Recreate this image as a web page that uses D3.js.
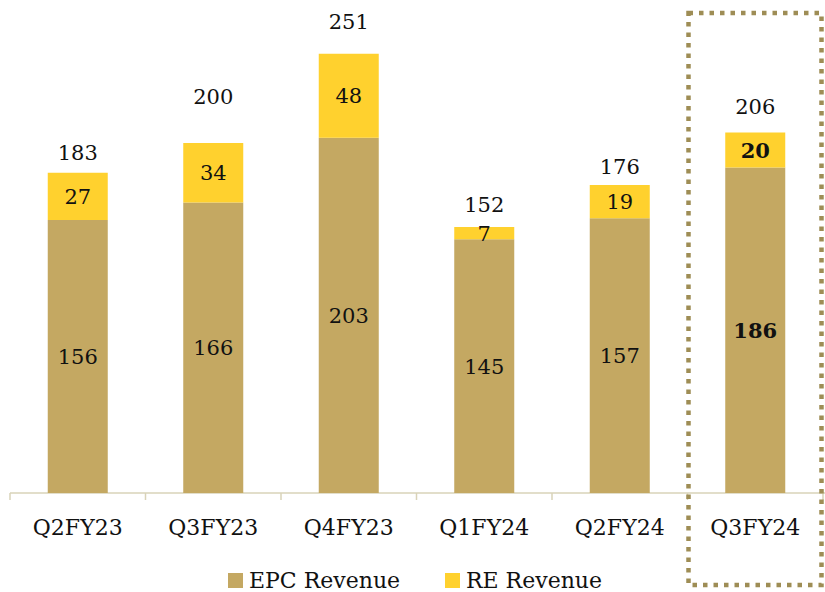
<!DOCTYPE html>
<html>
<head>
<meta charset="utf-8">
<script src="https://cdn.jsdelivr.net/npm/d3@7"></script>
<style>
  body { margin: 0; background: #fff; }
  svg { display: block; font-family: "DejaVu Serif", "Liberation Serif", serif; }
</style>
</head>
<body>
<div id="chart"></div>
<script>
const categories = ["Q2FY23", "Q3FY23", "Q4FY23", "Q1FY24", "Q2FY24", "Q3FY24"];
const epcRevenue = [156, 166, 203, 145, 157, 186];
const reRevenue = [27, 34, 48, 7, 19, 20];
const totals = [183, 200, 251, 152, 176, 206];
const seriesNames = ["EPC Revenue", "RE Revenue"];
const highlighted = "Q3FY24";
// gap in px between bar top and total label baseline (as placed in the original)
const totalLabelGap = [13, 39, 25, 15, 11, 19];

const width = 825, height = 592;
const colors = { "EPC Revenue": "#C4A862", "RE Revenue": "#FFD12E" };

const svg = d3.select("#chart").append("svg")
    .attr("width", width)
    .attr("height", height);

const x = d3.scaleBand()
    .domain(categories)
    .range([10, 823])
    .paddingInner(0)
    .paddingOuter(0);

const y = d3.scaleLinear()
    .domain([0, 100])
    .range([493, 318]);

const barWidth = 60;

// stack the two series
const rows = categories.map((c, i) => ({ cat: c, "EPC Revenue": epcRevenue[i], "RE Revenue": reRevenue[i], total: totals[i], gap: totalLabelGap[i] }));
const stacked = d3.stack().keys(seriesNames)(rows);

// axis line with ticks at band edges
const axis = svg.append("g");
axis.append("line")
    .attr("x1", 10).attr("x2", width)
    .attr("y1", y(0)).attr("y2", y(0))
    .attr("stroke", "#D9D3B8").attr("stroke-width", 1.5);
categories.concat([null]).forEach(c => {
    const xe = c ? x(c) : x.range()[1];
    axis.append("line")
        .attr("x1", xe).attr("x2", xe)
        .attr("y1", y(0)).attr("y2", y(0) + 7)
        .attr("stroke", "#D9D3B8").attr("stroke-width", 1.5);
});

// bars
stacked.forEach(layer => {
    svg.append("g")
        .selectAll("rect")
        .data(layer)
        .join("rect")
        .attr("x", d => x(d.data.cat) + (x.bandwidth() - barWidth) / 2)
        .attr("width", barWidth)
        .attr("y", d => y(d[1]))
        .attr("height", d => y(d[0]) - y(d[1]))
        .attr("fill", colors[layer.key]);

    // segment labels
    svg.append("g")
        .selectAll("text")
        .data(layer)
        .join("text")
        .attr("x", d => x(d.data.cat) + x.bandwidth() / 2)
        .attr("y", d => (y(d[0]) + y(d[1])) / 2)
        .attr("dy", "0.36em")
        .attr("text-anchor", "middle")
        .attr("font-size", 21)
        .attr("font-weight", d => d.data.cat === highlighted ? "bold" : "normal")
        .attr("fill", "#111")
        .text(d => d.data[layer.key]);
});

// totals
svg.append("g")
    .selectAll("text")
    .data(rows)
    .join("text")
    .attr("x", d => x(d.cat) + x.bandwidth() / 2)
    .attr("y", d => y(d.total) - d.gap)
    .attr("text-anchor", "middle")
    .attr("font-size", 21)
    .attr("fill", "#111")
    .text(d => d.total);

// category labels
svg.append("g")
    .selectAll("text")
    .data(categories)
    .join("text")
    .attr("x", d => x(d) + x.bandwidth() / 2)
    .attr("y", 535)
    .attr("text-anchor", "middle")
    .attr("font-size", 22)
    .attr("fill", "#111")
    .text(d => d);

// highlight box
svg.append("rect")
    .attr("x", x(highlighted) + 1)
    .attr("y", 13)
    .attr("width", 133)
    .attr("height", 572)
    .attr("fill", "none")
    .attr("stroke", "#9E8D55")
    .attr("stroke-width", 4.5)
    .attr("stroke-dasharray", "4.5 6");

// legend
const legend = svg.append("g");
const legendX = [228, 445];
seriesNames.forEach((s, i) => {
    legend.append("rect")
        .attr("x", legendX[i]).attr("y", 573)
        .attr("width", 15).attr("height", 15)
        .attr("fill", colors[s]);
    legend.append("text")
        .attr("x", legendX[i] + 21).attr("y", 588)
        .attr("font-size", 22)
        .attr("fill", "#111")
        .text(s);
});
</script>
</body>
</html>
